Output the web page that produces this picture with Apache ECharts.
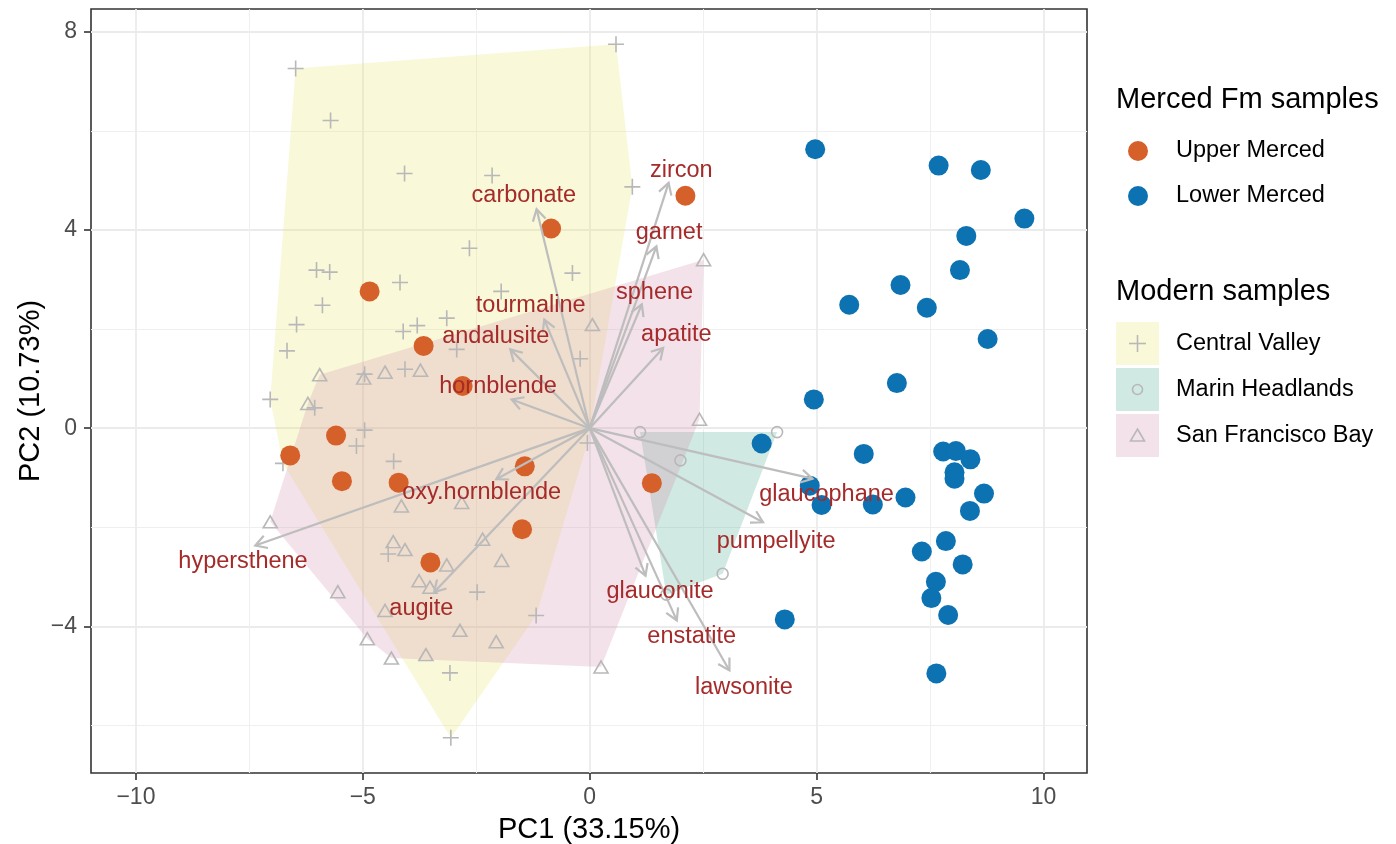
<!DOCTYPE html>
<html><head><meta charset="utf-8">
<script src="https://cdn.jsdelivr.net/npm/echarts@6/dist/echarts.min.js"></script>
<style>html,body{margin:0;padding:0;background:#fff}#c{width:1396px;height:844px}</style>
</head><body><div id="c"></div>
<script>
// ---------------- data ----------------
const upperMerced = [[2.11,4.69],[-0.85,4.03],[-4.85,2.76],[-3.66,1.66],[-2.80,0.85],[-5.59,-0.15],[-6.60,-0.55],[-5.46,-1.07],[-4.21,-1.10],[-1.43,-0.77],[-1.49,-2.04],[-3.51,-2.71],[1.37,-1.11]];
const lowerMerced = [[4.97,5.63],[7.69,5.30],[8.62,5.21],[9.58,4.23],[8.30,3.88],[8.16,3.19],[6.85,2.89],[5.72,2.49],[7.43,2.43],[8.77,1.80],[6.77,0.91],[4.94,0.58],
  [3.79,-0.31],[6.04,-0.52],[7.79,-0.47],[8.07,-0.46],[8.39,-0.63],[8.04,-0.89],[8.04,-1.02],[4.85,-1.16],[5.11,-1.55],[6.24,-1.54],[6.96,-1.40],[8.69,-1.32],[8.38,-1.67],[7.85,-2.28],[7.32,-2.49],[8.22,-2.75],[7.63,-3.10],[7.53,-3.43],[7.90,-3.77],[4.30,-3.86],[7.64,-4.95]];
const centralValley = [[0.58,7.75],[-6.48,7.26],[-5.71,6.21],[-4.08,5.14],[-2.15,5.10],[0.94,4.87],[-2.65,3.63],[-0.38,3.13],[-6.02,3.19],[-5.73,3.15],[-4.18,2.94],[-1.95,2.76],[-5.89,2.48],[-3.15,2.22],[-6.46,2.09],[-4.11,1.95],[-3.80,2.07],[-6.67,1.56],[-2.93,1.59],[-4.07,1.19],[-4.96,1.09],[-7.04,0.58],[-6.06,0.41],[-4.96,-0.04],[-5.14,-0.36],[-4.32,-0.67],[-6.76,-0.71],[-0.21,1.40],[-0.05,-0.30],[-4.44,-2.54],[-2.48,-3.31],[-1.18,-3.78],[-3.08,-4.94],[-3.06,-6.25]];
const marinHeadlands = [[1.11,-0.08],[4.13,-0.08],[2.00,-0.65],[2.93,-2.94],[1.69,-3.36]];
const sfBay = [[0.06,2.09],[-5.95,1.08],[-4.51,1.13],[-3.73,1.17],[-4.98,1.01],[-6.21,0.50],[-7.04,-1.89],[-4.15,-1.57],[-2.82,-1.50],[-2.36,-2.24],[-4.33,-2.29],[-4.07,-2.45],[-3.15,-2.76],[-1.94,-2.67],[-3.76,-3.08],[-3.52,-3.21],[-5.55,-3.30],[-4.51,-3.68],[-2.86,-4.08],[-4.90,-4.25],[-2.06,-4.31],[-3.61,-4.57],[-4.37,-4.64],[0.25,-4.82],[2.51,3.40],[2.42,0.18]];

const varNames = ['carbonate','zircon','garnet','sphene','apatite','tourmaline','andalusite','hornblende','oxy.hornblende','hypersthene','augite','glauconite','enstatite','lawsonite','pumpellyite','glaucophane'];
const arrowTips = [[-1.17,4.42],[1.74,4.95],[1.47,3.67],[1.15,2.50],[1.62,1.62],[-1.00,2.19],[-1.75,1.59],[-1.72,0.58],[-2.06,-1.03],[-7.37,-2.37],[-3.43,-3.31],[1.23,-2.98],[1.92,-3.88],[3.08,-4.89],[3.82,-1.90],[4.91,-1.02]];
const labelPos = [[-1.45,4.69],[2.02,5.21],[1.75,3.94],[1.43,2.73],[1.91,1.90],[-1.30,2.47],[-2.07,1.84],[-2.02,0.85],[-2.38,-1.30],[-7.64,-2.70],[-3.71,-3.65],[1.55,-3.30],[2.25,-4.21],[3.40,-5.24],[4.11,-2.29],[5.22,-1.34]];

const xMajor = [-10,-5,0,5,10];
const xMinor = [-7.5,-2.5,2.5,7.5];
const yMajor = [-4,0,4,8];
const yMinor = [-6,-2,2,6];

// ---------------- styles ----------------
const FONT = '"Liberation Sans", Arial, Helvetica, sans-serif';
const GREY = '#b8b8b8';
const ARROW = '#bdbdbd';
const LABEL = '#A52A2A';
const ORANGE = '#D6602A';
const BLUE = '#0C72B2';
const FILL_CV = 'rgba(231,227,99,0.25)';
const FILL_MH = 'rgba(67,167,139,0.25)';
const FILL_SF = 'rgba(211,139,171,0.25)';
const TXT = 23.5, TITLE = 29;

function hull(points){
  const p = points.slice().sort((a,b)=>a[0]-b[0]||a[1]-b[1]);
  const cross=(o,a,b)=>(a[0]-o[0])*(b[1]-o[1])-(a[1]-o[1])*(b[0]-o[0]);
  const lower=[];for(const q of p){while(lower.length>=2&&cross(lower[lower.length-2],lower[lower.length-1],q)<=0)lower.pop();lower.push(q);}
  const upper=[];for(let i=p.length-1;i>=0;i--){const q=p[i];while(upper.length>=2&&cross(upper[upper.length-2],upper[upper.length-1],q)<=0)upper.pop();upper.push(q);}
  upper.pop();lower.pop();return lower.concat(upper);
}
function hullSeries(name, pts, fill){
  const h = hull(pts);
  return {type:'custom', name, z:1, silent:true, data:[[0,0]],
    renderItem:(params, api)=>({type:'polygon', shape:{points:h.map(p=>api.coord(p))}, style:{fill, stroke:null}})};
}
function modernScatter(name, data, symbol, size){
  return {type:'scatter', name, z:2, silent:true, data, symbol, symbolSize:size,
    itemStyle:{color:'rgba(0,0,0,0)', borderColor:GREY, borderWidth:1.6, opacity:1}};
}

const chart = echarts.init(document.getElementById('c'), null, {renderer:'canvas'});
const minus = v => (v<0?'\u2212'+Math.abs(v):String(v));
const option = {
  animation:false,
  backgroundColor:'#fff',
  grid:{left:91, right:309, top:9, bottom:71, outerBoundsMode:'none', containLabel:false,
        show:true, borderColor:'#333333', borderWidth:1.6, backgroundColor:'#fff'},
  xAxis:[
    {type:'value', min:-10.99, max:10.96, position:'bottom',
     name:'PC1 (33.15%)', nameLocation:'middle', nameGap:42,
     nameTextStyle:{fontFamily:FONT, fontSize:TITLE, color:'#000', verticalAlign:'top'},
     axisLine:{show:false, onZero:false},
     axisTick:{show:true, length:7, customValues:xMajor, lineStyle:{color:'#333', width:1.6}},
     axisLabel:{show:true, customValues:xMajor, formatter:minus, margin:13, fontFamily:FONT, fontSize:23, color:'#4d4d4d'},
     splitLine:{show:true, lineStyle:{color:'#ebebeb', width:1.8}}},
    {type:'value', min:-10.99, max:10.96, position:'bottom',
     axisLine:{show:false, onZero:false},
     axisTick:{show:false, customValues:xMinor},
     axisLabel:{show:false, customValues:xMinor},
     splitLine:{show:true, lineStyle:{color:'#efefef', width:1.1}}}
  ],
  yAxis:[
    {type:'value', min:-6.96, max:8.46, position:'left',
     name:'PC2 (10.73%)', nameLocation:'middle', nameGap:46, nameRotate:90, nameMoveOverlap:false,
     nameTextStyle:{fontFamily:FONT, fontSize:TITLE, color:'#000'},
     axisLine:{show:false, onZero:false},
     axisTick:{show:true, length:7, customValues:yMajor, lineStyle:{color:'#333', width:1.6}},
     axisLabel:{show:true, customValues:yMajor, formatter:minus, margin:14, fontFamily:FONT, fontSize:23, color:'#4d4d4d'},
     splitLine:{show:true, lineStyle:{color:'#ebebeb', width:1.8}}},
    {type:'value', min:-6.96, max:8.46, position:'left',
     axisLine:{show:false, onZero:false},
     axisTick:{show:false, customValues:yMinor},
     axisLabel:{show:false, customValues:yMinor},
     splitLine:{show:true, lineStyle:{color:'#efefef', width:1.1}}}
  ],
  series:[
    hullSeries('Central Valley hull', centralValley, FILL_CV),
    hullSeries('Marin Headlands hull', marinHeadlands, FILL_MH),
    hullSeries('San Francisco Bay hull', sfBay, FILL_SF),
    modernScatter('Central Valley', centralValley, 'path://M5,0L5,10M0,5L10,5', 16),
    modernScatter('Marin Headlands', marinHeadlands, 'circle', 11),
    modernScatter('San Francisco Bay', sfBay, 'triangle', [14,12]),
    {type:'scatter', name:'Upper Merced', z:3, silent:true, data:upperMerced, symbol:'circle', symbolSize:20, itemStyle:{color:ORANGE, opacity:1}},
    {type:'scatter', name:'Lower Merced', z:3, silent:true, data:lowerMerced, symbol:'circle', symbolSize:20, itemStyle:{color:BLUE, opacity:1}},
    {type:'custom', name:'loadings', z:4, silent:true, data:arrowTips,
     renderItem:(params, api)=>{
       const o = api.coord([0,0]);
       const t = api.coord([api.value(0), api.value(1)]);
       const ang = Math.atan2(t[1]-o[1], t[0]-o[0]);
       const L = 13, a = Math.PI/6;
       const p1 = [t[0]-L*Math.cos(ang-a), t[1]-L*Math.sin(ang-a)];
       const p2 = [t[0]-L*Math.cos(ang+a), t[1]-L*Math.sin(ang+a)];
       return {type:'group', children:[
         {type:'line', shape:{x1:o[0], y1:o[1], x2:t[0], y2:t[1]}, style:{stroke:ARROW, lineWidth:2.2}},
         {type:'polyline', shape:{points:[p1,t,p2]}, style:{stroke:ARROW, lineWidth:2.2, fill:null}}
       ]};
     }},
    {type:'custom', name:'variable labels', z:5, silent:true,
     data:labelPos.map((p,i)=>[p[0],p[1],varNames[i]]),
     renderItem:(params, api)=>{
       const c = api.coord([api.value(0), api.value(1)]);
       return {type:'text', style:{text:varNames[params.dataIndex], x:c[0], y:c[1], align:'center', verticalAlign:'middle',
         fill:LABEL, font:TXT+'px '+FONT}};
     }}
  ],
  graphic:[
    {type:'text', x:1116, y:100, style:{text:'Merced Fm samples', font:TITLE+'px '+FONT, fill:'#000', verticalAlign:'middle'}},
    {type:'circle', shape:{cx:1138, cy:151, r:10}, style:{fill:ORANGE}},
    {type:'circle', shape:{cx:1138, cy:196, r:10}, style:{fill:BLUE}},
    {type:'text', x:1176, y:151, style:{text:'Upper Merced', font:TXT+'px '+FONT, fill:'#000', verticalAlign:'middle'}},
    {type:'text', x:1176, y:196, style:{text:'Lower Merced', font:TXT+'px '+FONT, fill:'#000', verticalAlign:'middle'}},
    {type:'text', x:1116, y:292, style:{text:'Modern samples', font:TITLE+'px '+FONT, fill:'#000', verticalAlign:'middle'}},
    {type:'rect', shape:{x:1116, y:322, width:43, height:43}, style:{fill:FILL_CV}},
    {type:'rect', shape:{x:1116, y:368, width:43, height:43}, style:{fill:FILL_MH}},
    {type:'rect', shape:{x:1116, y:414, width:43, height:43}, style:{fill:FILL_SF}},
    {type:'polyline', shape:{points:[[1137.5,335],[1137.5,352]]}, style:{stroke:GREY, lineWidth:1.6}},
    {type:'polyline', shape:{points:[[1129,343.5],[1146,343.5]]}, style:{stroke:GREY, lineWidth:1.6}},
    {type:'circle', shape:{cx:1137.5, cy:389.5, r:5}, style:{fill:null, stroke:GREY, lineWidth:1.6}},
    {type:'polygon', shape:{points:[[1137.5,429],[1144.5,441],[1130.5,441]]}, style:{fill:null, stroke:GREY, lineWidth:1.6}},
    {type:'text', x:1176, y:344, style:{text:'Central Valley', font:TXT+'px '+FONT, fill:'#000', verticalAlign:'middle'}},
    {type:'text', x:1176, y:390, style:{text:'Marin Headlands', font:TXT+'px '+FONT, fill:'#000', verticalAlign:'middle'}},
    {type:'text', x:1176, y:436, style:{text:'San Francisco Bay', font:TXT+'px '+FONT, fill:'#000', verticalAlign:'middle'}}
  ]
};
chart.setOption(option);
</script></body></html>
